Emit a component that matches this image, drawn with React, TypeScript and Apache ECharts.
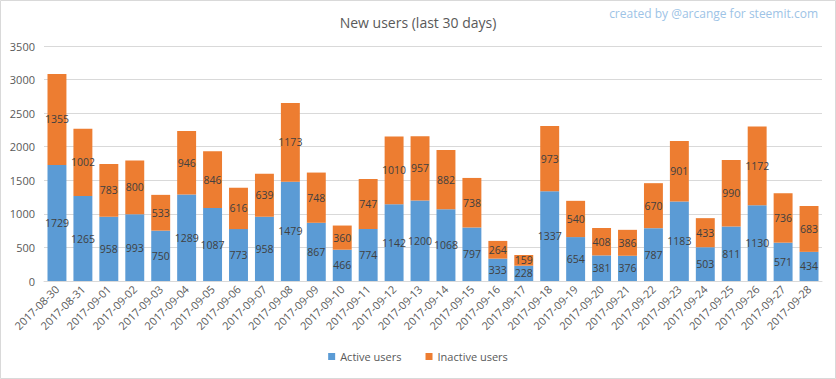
import React, { useEffect, useRef } from "react";
import * as echarts from "echarts";

const categories = [
  "2017-08-30","2017-08-31","2017-09-01","2017-09-02","2017-09-03","2017-09-04","2017-09-05","2017-09-06","2017-09-07","2017-09-08",
  "2017-09-09","2017-09-10","2017-09-11","2017-09-12","2017-09-13","2017-09-14","2017-09-15","2017-09-16","2017-09-17","2017-09-18",
  "2017-09-19","2017-09-20","2017-09-21","2017-09-22","2017-09-23","2017-09-24","2017-09-25","2017-09-26","2017-09-27","2017-09-28",
];
const activeUsers = [1729,1265,958,993,750,1289,1087,773,958,1479,867,466,774,1142,1200,1068,797,333,228,1337,654,381,376,787,1183,503,811,1130,571,434];
const inactiveUsers = [1355,1002,783,800,533,946,846,616,639,1173,748,360,747,1010,957,882,738,264,159,973,540,408,386,670,901,433,990,1172,736,683];

const FONT = "'Open Sans', 'Liberation Sans', sans-serif";

export default function App() {
  const ref = useRef<HTMLDivElement>(null);
  useEffect(() => {
    if (!ref.current) return;
    const chart = echarts.init(ref.current, undefined, { renderer: "svg" });
    const labelStyle = {
      show: true,
      position: "inside" as const,
      color: "#404040",
      fontSize: 10.5,
      lineHeight: 11,
      fontFamily: FONT,
    };
    chart.setOption({
      animation: false,
      backgroundColor: "#ffffff",
      title: {
        text: "New users (last 30 days)",
        left: "center",
        top: 10,
        textStyle: { color: "#595959", fontSize: 14, fontWeight: "normal", fontFamily: FONT },
      },
      graphic: [
        {
          type: "rect",
          shape: { x: 0.5, y: 0.5, width: 835, height: 378 },
          style: { fill: "none", stroke: "#d9d9d9", lineWidth: 1 },
          silent: true,
        },
        {
          type: "text",
          right: 18,
          top: 7,
          style: {
            text: "created by @arcange for steemit.com",
            fill: "#9dc3e6",
            fontSize: 12,
            fontFamily: FONT,
          },
        },
      ],
      legend: {
        bottom: 12,
        left: "center",
        icon: "rect",
        itemWidth: 7,
        itemHeight: 7,
        itemGap: 24,
        textStyle: { color: "#595959", fontSize: 11, fontFamily: FONT },
        data: ["Active users", "Inactive users"],
      },
      grid: { left: 44, right: 14, top: 46, bottom: 98 },
      xAxis: {
        type: "category",
        data: categories,
        axisTick: { show: false },
        axisLine: { lineStyle: { color: "#d9d9d9" } },
        axisLabel: {
          rotate: 45,
          color: "#595959",
          fontSize: 11,
          fontFamily: FONT,
          interval: 0,
          margin: 6,
        },
      },
      yAxis: {
        type: "value",
        min: 0,
        max: 3500,
        interval: 500,
        axisLine: { show: false },
        axisTick: { show: false },
        splitLine: { lineStyle: { color: "#d9d9d9" } },
        axisLabel: {
          color: "#595959",
          fontSize: 11,
          fontFamily: FONT,
          margin: 9,
          formatter: (v: number) => String(v),
        },
      },
      series: [
        {
          name: "Active users",
          type: "bar",
          stack: "total",
          data: activeUsers,
          barWidth: "73%",
          itemStyle: { color: "#5b9bd5" },
          label: labelStyle,
        },
        {
          name: "Inactive users",
          type: "bar",
          stack: "total",
          data: inactiveUsers,
          barWidth: "73%",
          itemStyle: { color: "#ed7d31" },
          label: labelStyle,
        },
      ],
    });
    return () => chart.dispose();
  }, []);
  return (
    <div
      ref={ref}
      style={{ position: "absolute", left: 0, top: 0, width: 836, height: 379 }}
    />
  );
}
